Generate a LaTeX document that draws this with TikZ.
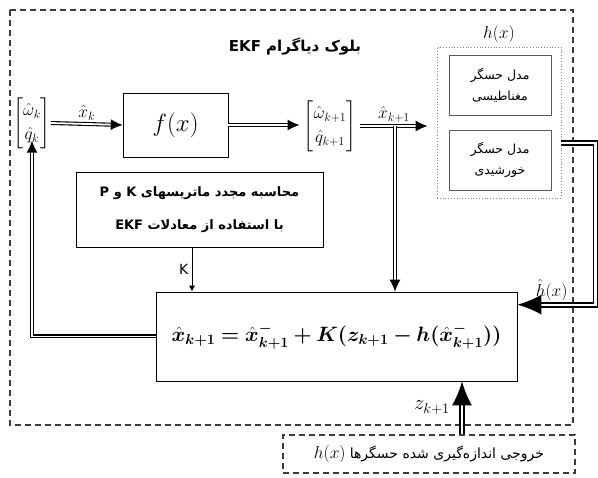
\documentclass[tikz,border=0pt]{standalone}
\usepackage{amssymb, amsmath, bm}
\usepackage{fontspec}
\setmainfont{Liberation Serif}
\newfontfamily\farsi[Script=Arabic]{DejaVu Sans}
\newfontfamily\latinsans{DejaVu Sans}
\TeXXeTstate=1
\usepackage{tikz}
\usetikzlibrary{arrows.meta, positioning, calc}
\definecolor{frame}{RGB}{60, 60, 60}
\newcommand{\fsz}[1]{\fontsize{#1}{1.2\dimexpr#1pt\relax}\selectfont}
\tikzset{
  blk/.style={draw, line width=0.6pt, inner sep=2pt, align=center},
  dblarr/.style={double, double distance=1.8pt, line width=1.1pt,
    -{Latex[length=12pt, width=11pt]}},
  bigarr/.style={double, double distance=2.2pt, line width=1.8pt,
    -{Latex[length=24pt, width=20pt]}},
  dashframe/.style={draw=frame, line width=2.4pt, dash pattern=on 6pt off 4pt}
}

\begin{document}
\begin{tikzpicture}[x=1pt, y=-1pt]
  \useasboundingbox (0,0) rectangle (598,478);

  % outer frame
  \draw[dashframe] (10,10) rectangle (573,425);
  \node[font=\farsi\bfseries\fsz{15}] (title) at (295,47) {\beginR بلوک دیاگرام EKF\endR};

  % state vectors and f(x)
  \node[inner sep=0pt, font=\fsz{17}] (vk) at (32,123)
    {$\renewcommand\arraystretch{1.15}\begin{bmatrix}\hat{\omega}_k\\ \hat{q}_k\end{bmatrix}$};
  \node[blk, minimum width=105, minimum height=64] (fx) at (175.5,125)
    {\fsz{30}$f(x)$};
  \node[inner sep=0pt, font=\fsz{17}] (vk1) at (330,126)
    {$\renewcommand\arraystretch{1.15}\begin{bmatrix}\hat{\omega}_{k+1}\\ \hat{q}_{k+1}\end{bmatrix}$};

  % sensor models
  \node[draw=gray, dotted, line width=0.8pt, minimum width=124, minimum height=151] (hbox) at (499,122.5) {};
  \node[above=0pt of hbox, font=\fsz{16}] (hlab) {$h(x)$};
  \node[blk, draw=gray!70!black, minimum width=102, minimum height=60, font=\farsi\fontsize{12.5}{21}\selectfont] (mag) at (500,85)
    {\beginR مدل حسگر\endR\\ \beginR مغناطیسی\endR};
  \node[blk, draw=gray!70!black, minimum width=102, minimum height=60, font=\farsi\fontsize{12.5}{21}\selectfont] (sun) at (500,160)
    {\beginR مدل حسگر\endR\\ \beginR خورشیدی\endR};

  % gain and update
  \node[blk, minimum width=247, minimum height=75, font=\farsi\bfseries\fontsize{13}{33}\selectfont] (kp) at (199.5,209.5)
    {\beginR محاسبه مجدد ماتریسهای K و P\endR\\ \beginR با استفاده از معادلات EKF\endR};
  \node[blk, minimum width=361, minimum height=89] (eq) at (336.5,336.5)
    {\fsz{22}$\bm{\hat{x}_{k+1} = \hat{x}^{-}_{k+1} + K(z_{k+1} - h(\hat{x}^{-}_{k+1}))}$};

  % measurement
  \node[dashframe, minimum width=292, minimum height=38, inner sep=1pt] (meas) at (429,454)
    {\fsz{17}$h(x)$\ {\farsi\fsz{14}\beginR خروجی اندازه‌گیری شده حسگرها\endR}};

  % connectors
  \draw[dblarr] (vk.east) -- node[above, font=\fsz{18}] {$\hat{x}_k$} (fx.west);
  \draw[dblarr] (fx.east) -- ([xshift=-4]vk1.west |- fx.east);
  \coordinate (xa) at (395,126);
  \draw[dblarr] ([xshift=4]vk1.east) -- node[above, font=\fsz{18}] {$\hat{x}_{k+1}$} ([xshift=-9]hbox.west |- xa);
  \draw[dblarr] (xa) -- (xa |- eq.north);
  \draw[-{Latex[length=6pt, width=6pt]}, line width=0.9pt] (kp.south -| 192,0) -- node[left, font=\latinsans\fsz{14}] {K} (eq.north -| 192,0);
  \coordinate (hout) at ($(hbox.east)+(0,20.5)$);
  \coordinate (hin) at ($(eq.north east)+(0,13)$);
  \draw[bigarr] (hout) -- ++(34,0) |- node[pos=0.78, above, font=\fsz{18}] {$\hat{h}(x)$} (hin);
  \draw[bigarr] (meas.north -| 462,0) -- node[left=8pt, font=\fsz{20}] {$z_{k+1}$} (eq.south -| 462,0);
  \draw[dblarr] (eq.west) -| ([yshift=8]vk.south);
\end{tikzpicture}
\end{document}
